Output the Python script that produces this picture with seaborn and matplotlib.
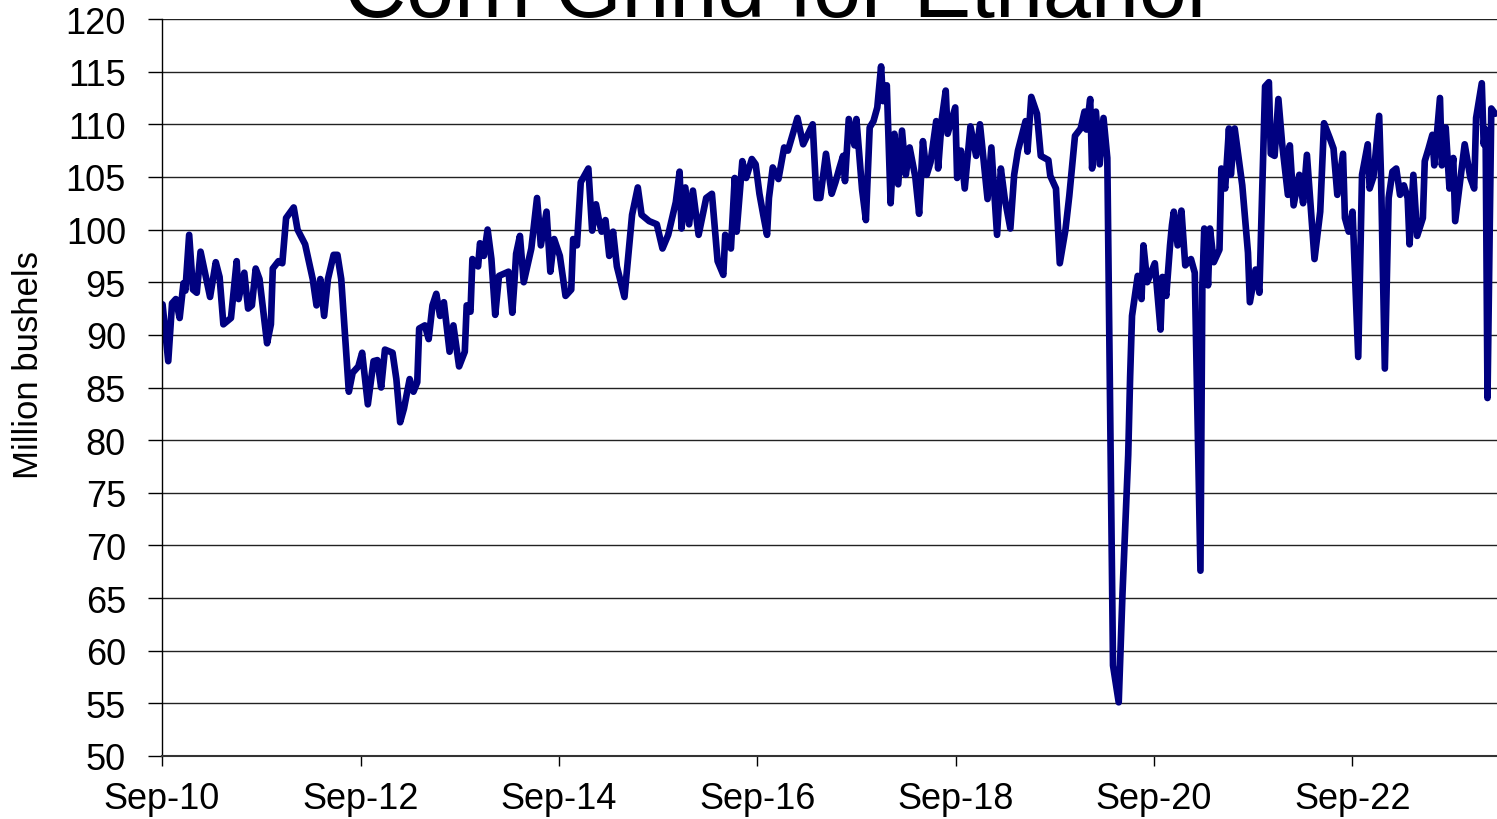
import numpy as np
import pandas as pd
import matplotlib
matplotlib.use("Agg")
import matplotlib.pyplot as plt
import matplotlib.dates as mdates
import seaborn as sns

# weekly corn grind for ethanol, million bushels
# weeks counted from the week ending 2010-09-03
start_date = "2010-09-03"
weeks = [0, 3, 5, 7, 9, 11, 12, 14, 16, 18, 20, 23, 25, 28, 30, 32, 36, 39, 40, 43,
         45, 47, 49, 51, 55, 57, 58, 61, 63, 65, 69, 71, 75, 79, 81, 83, 85, 87, 90, 92,
         94, 98, 100, 103, 105, 108, 111, 113, 115, 117, 121, 123, 125, 127, 130, 132, 134, 135, 138, 140,
         142, 144, 146, 148, 151, 153, 156, 159, 160, 162, 163, 166, 167, 169, 171, 173, 175, 177, 182, 184,
         185, 186, 188, 190, 194, 197, 199, 202, 204, 206, 209, 212, 215, 216, 218, 220, 224, 226, 228, 230,
         231, 233, 235, 237, 239, 243, 247, 250, 252, 256, 260, 263, 266, 270, 272, 273, 275, 277, 279, 282,
         286, 289, 292, 295, 296, 299, 301, 302, 305, 307, 310, 312, 314, 316, 318, 319, 321, 324, 327, 329,
         334, 337, 342, 344, 346, 349, 352, 354, 356, 358, 359, 361, 364, 365, 368, 370, 372, 374, 376, 378,
         379, 381, 383, 385, 387, 389, 391, 393, 396, 398, 400, 402, 404, 407, 408, 410, 412, 413, 417, 418,
         420, 422, 425, 428, 430, 434, 436, 439, 441, 443, 446, 448, 450, 454, 455, 457, 460, 462, 466, 467,
         470, 472, 475, 477, 480, 483, 485, 486, 488, 489, 491, 493, 495, 497, 500, 503, 505, 508, 509, 510,
         513, 515, 516, 518, 522, 525, 526, 528, 530, 531, 532, 534, 536, 538, 541, 543, 546, 547, 548, 550,
         551, 553, 556, 557, 559, 561, 562, 564, 568, 571, 572, 575, 577, 580, 582, 583, 585, 587, 589, 592,
         593, 595, 598, 600, 602, 606, 609, 611, 614, 616, 618, 621, 622, 624, 626, 629, 631, 634, 635, 637,
         640, 641, 643, 645, 647, 649, 651, 653, 655, 656, 658, 660, 663, 664, 666, 668, 669, 672, 673, 675,
         677, 679, 680, 683, 685, 688, 690, 691, 694, 695, 696, 697, 699, 701]

grind = [92.9, 87.5, 93.0, 93.4, 91.6, 94.9, 94.2, 99.5, 94.3, 94.0, 97.9, 95.3, 93.6, 96.9, 95.5, 91.0, 91.6, 97.0, 93.4, 95.9,
         92.5, 92.8, 96.3, 95.3, 89.2, 91.0, 96.3, 97.0, 96.8, 101.1, 102.1, 100.0, 98.6, 95.3, 92.8, 95.3, 91.8, 95.3, 97.6, 97.6,
         95.3, 84.6, 86.4, 87.0, 88.3, 83.4, 87.5, 87.6, 85.0, 88.6, 88.3, 85.8, 81.7, 83.0, 85.8, 84.6, 85.5, 90.6, 90.9, 89.6,
         92.8, 93.9, 91.8, 93.1, 88.4, 90.9, 87.0, 88.4, 92.8, 92.2, 97.2, 96.5, 98.7, 97.5, 100.0, 97.2, 91.9, 95.6, 96.0, 92.1,
         94.7, 97.7, 99.4, 95.0, 98.2, 103.0, 98.5, 101.7, 96.0, 99.1, 97.5, 93.7, 94.3, 99.1, 98.5, 104.5, 105.8, 99.9, 102.4, 100.5,
         99.8, 100.9, 97.5, 99.8, 96.5, 93.6, 101.4, 104.0, 101.4, 100.8, 100.5, 98.2, 99.5, 102.6, 105.5, 100.1, 104.0, 100.5, 103.7, 99.5,
         103.0, 103.4, 97.0, 95.7, 99.5, 98.2, 104.9, 99.8, 106.5, 104.9, 106.7, 106.2, 103.4, 101.4, 99.5, 103.0, 105.9, 104.8, 107.8, 107.5,
         110.6, 108.1, 110.0, 103.0, 103.0, 107.2, 103.4, 104.5, 105.8, 107.0, 104.6, 110.5, 108.0, 110.5, 103.8, 100.9, 109.7, 110.3, 111.6, 115.5,
         112.2, 113.7, 102.5, 109.1, 104.3, 109.4, 105.2, 107.8, 105.0, 101.5, 108.4, 105.2, 106.4, 110.3, 105.8, 110.6, 113.2, 109.1, 111.6, 104.9,
         107.5, 103.9, 109.8, 107.0, 110.0, 102.9, 107.8, 99.5, 105.8, 103.0, 100.1, 105.2, 107.5, 110.3, 107.4, 112.6, 111.0, 107.0, 106.6, 105.1,
         103.9, 96.8, 100.0, 103.2, 108.9, 109.6, 111.2, 109.5, 112.4, 105.8, 111.2, 106.2, 110.6, 106.8, 58.6, 55.1, 65.5, 78.6, 86.0, 91.8,
         95.6, 93.4, 98.5, 95.0, 96.8, 90.5, 95.5, 93.7, 98.5, 100.4, 101.7, 98.5, 101.8, 96.6, 97.2, 95.9, 67.6, 94.7, 100.1, 94.7,
         100.1, 96.9, 98.1, 105.8, 103.9, 109.6, 105.2, 109.6, 104.2, 97.8, 93.1, 96.2, 94.0, 113.6, 114.0, 107.2, 107.0, 112.4, 108.1, 103.3,
         108.0, 102.3, 105.2, 102.5, 107.1, 97.2, 101.7, 110.1, 108.7, 107.7, 103.3, 107.2, 101.1, 99.8, 101.7, 87.9, 105.2, 108.1, 103.9, 105.0,
         110.8, 105.0, 86.8, 103.0, 105.5, 105.8, 103.3, 104.2, 103.0, 98.6, 105.2, 99.4, 101.1, 106.5, 107.7, 109.0, 106.1, 112.5, 106.1, 109.7,
         103.9, 106.8, 100.8, 105.2, 108.1, 104.9, 103.9, 110.6, 113.9, 108.1, 109.5, 84.0, 111.5, 111.0]

assert len(weeks) == len(grind)

y_ticks = list(range(50, 121, 5))

dates = pd.Timestamp(start_date) + pd.to_timedelta(np.array(weeks) * 7, unit="D")
df = pd.DataFrame({"date": dates, "grind": grind})

sns.set_style("white")
plt.rcParams["font.family"] = ["Liberation Sans", "DejaVu Sans"]
plt.rcParams["text.color"] = "black"

fig = plt.figure(figsize=(14.97, 8.2), dpi=100)
ax = fig.add_axes([162 / 1497, 63 / 820, 1335 / 1497, 737 / 820])

sns.lineplot(data=df, x="date", y="grind", ax=ax, color="#000080", linewidth=4.8,
             solid_joinstyle="round", solid_capstyle="round")

ax.set_xlim(pd.Timestamp("2010-09-01"), pd.Timestamp("2024-02-16"))
ax.set_ylim(50, 120)
ax.set_yticks(y_ticks)
ax.xaxis.set_major_locator(mdates.YearLocator(base=2, month=9, day=1))
ax.xaxis.set_major_formatter(mdates.DateFormatter("%b-%y"))

ax.yaxis.grid(True, color="#222222", linewidth=1.0)
ax.set_axisbelow(True)
for side in ["top", "right"]:
    ax.spines[side].set_visible(False)
ax.spines["left"].set_color("black")
ax.spines["left"].set_linewidth(1.0)
ax.spines["bottom"].set_color("#333333")
ax.spines["bottom"].set_linewidth(1.5)

ax.tick_params(axis="y", left=True, length=10, width=1, pad=16, labelsize=26, colors="black")
ax.tick_params(axis="x", bottom=True, length=7, width=1, pad=11, labelsize=26, colors="black")
ax.set_xlabel("")
ax.set_ylabel("")

fig.text(775 / 1497, 1 - 17 / 820, "Corn Grind for Ethanol", ha="center", va="baseline", fontsize=62)
fig.text(29 / 1497, 1 - 365 / 820, "Million bushels", rotation=90, ha="center", va="center", fontsize=25)

fig.savefig("out.png", dpi=100)
